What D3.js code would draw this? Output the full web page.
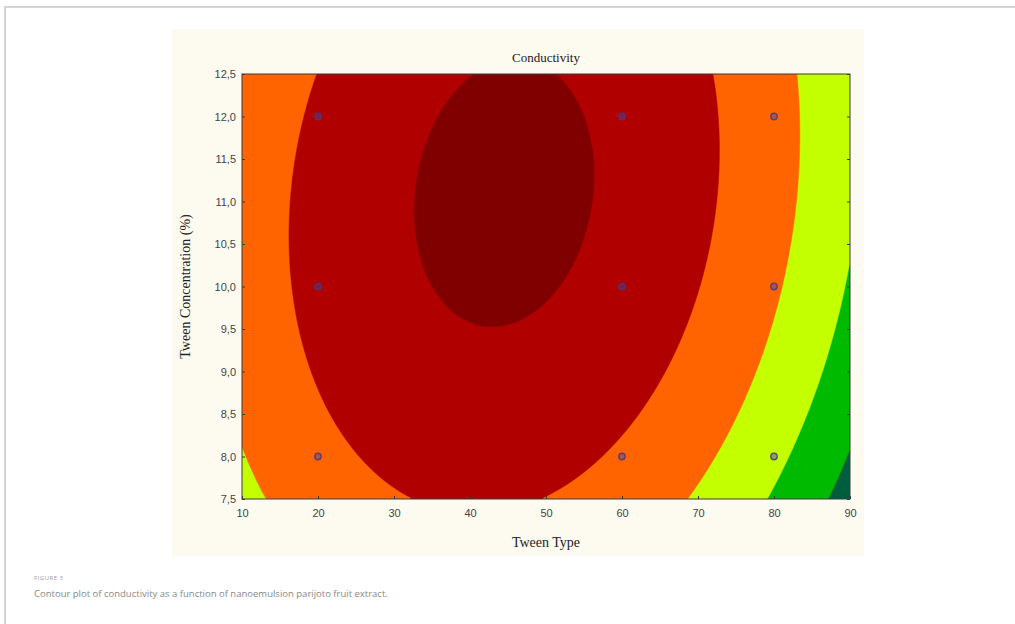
<!DOCTYPE html>
<html>
<head>
<meta charset="utf-8">
<script src="https://cdn.jsdelivr.net/npm/d3@7"></script>
<style>
  body { margin: 0; background: #fff; }
  svg { display: block; }
</style>
</head>
<body>
<script>
// design points (Tween type, Tween concentration %)
const tweenType = [20, 20, 20, 60, 60, 60, 80, 80, 80];
const tweenConc = [8, 10, 12, 8, 10, 12, 8, 10, 12];

// axis ticks
const xTicks = [10, 20, 30, 40, 50, 60, 70, 80, 90];
const yTicks = [7.5, 8, 8.5, 9, 9.5, 10, 10.5, 11, 11.5, 12, 12.5];

// fitted response surface
const surfX0 = 44.5, surfY0 = 11.1, surfTilt = 1.0;
const surfA = 1 / 685, surfB = 55.4 / 685, surfPeak = 4.2;

// contour levels, low -> high, and band colours (first = below lowest level)
const levels = [0.03, 1.02, 2.03, 3.05, 4.0];
const bandColors = ["#005e3c", "#00ba00", "#c4ff00", "#ff6400", "#b00000", "#800000"];

let width = 1015, height = 624;
let plot = {left: 242, right: 850, top: 74, bottom: 499};

let svg = d3.select("body").append("svg")
    .attr("width", width)
    .attr("height", height);

// card frame
svg.append("path")
    .attr("d", "M5,624 V7 H1015")
    .attr("fill", "none")
    .attr("stroke", "#d4d4d4")
    .attr("stroke-width", 2);

// cream image background
svg.append("rect")
    .attr("x", 172).attr("y", 29)
    .attr("width", 692).attr("height", 527)
    .attr("fill", "#fdfaf0");

let x = d3.scaleLinear().domain([10, 90]).range([plot.left, plot.right]);
let y = d3.scaleLinear().domain([7.5, 12.5]).range([plot.bottom, plot.top]);

function surface(tx, tc) {
    let dy = tc - surfY0;
    let dx = tx - surfX0 - surfTilt * dy;
    return surfPeak - surfA * dx * dx - surfB * dy * dy;
}

// sample the surface on a grid
const nx = 304, ny = 170;
let grid = new Array(nx * ny);
for (let j = 0; j < ny; j++) {
    for (let i = 0; i < nx; i++) {
        let tx = x.invert(plot.left + (i + 0.5) / nx * (plot.right - plot.left));
        let tc = y.invert(plot.top + (j + 0.5) / ny * (plot.bottom - plot.top));
        grid[j * nx + i] = surface(tx, tc);
    }
}

let contours = d3.contours().size([nx, ny]).smooth(true).thresholds(levels)(grid);

let gridPath = d3.geoPath(d3.geoTransform({
    point: function(px, py) {
        this.stream.point(plot.left + px * (plot.right - plot.left) / nx,
                          plot.top + py * (plot.bottom - plot.top) / ny);
    }
}));

svg.append("clipPath").attr("id", "clip")
    .append("rect")
    .attr("x", plot.left).attr("y", plot.top)
    .attr("width", plot.right - plot.left)
    .attr("height", plot.bottom - plot.top);

let g = svg.append("g").attr("clip-path", "url(#clip)");

g.append("rect")
    .attr("x", plot.left).attr("y", plot.top)
    .attr("width", plot.right - plot.left)
    .attr("height", plot.bottom - plot.top)
    .attr("fill", bandColors[0]);

g.selectAll("path.band")
    .data(contours)
    .enter()
    .append("path")
    .attr("class", "band")
    .attr("d", gridPath)
    .attr("fill", (d, i) => bandColors[i + 1])
    .attr("stroke", (d, i) => bandColors[i + 1])
    .attr("stroke-width", 0.5);

// design points
svg.selectAll("circle.pt")
    .data(tweenType.map((t, i) => [t, tweenConc[i]]))
    .enter()
    .append("circle")
    .attr("class", "pt")
    .attr("cx", d => x(d[0]))
    .attr("cy", d => y(d[1]))
    .attr("r", 3.2)
    .attr("fill", "#4a40a0")
    .attr("fill-opacity", 0.45)
    .attr("stroke", "#4a3a78")
    .attr("stroke-opacity", 0.85)
    .attr("stroke-width", 1.4);

// frame
svg.append("rect")
    .attr("x", plot.left).attr("y", plot.top)
    .attr("width", plot.right - plot.left)
    .attr("height", plot.bottom - plot.top)
    .attr("fill", "none")
    .attr("stroke", "#3a3a3a")
    .attr("stroke-width", 1);

let commaFmt = d => d3.format(".1f")(d).replace(".", ",");

let axisStyle = sel => {
    sel.select(".domain").remove();
    sel.selectAll(".tick line").attr("stroke", "#3a3a3a");
    sel.selectAll(".tick text")
        .attr("font-family", "Liberation Sans, Arial, sans-serif")
        .attr("font-size", "11px")
        .attr("fill", "#444");
};

svg.append("g")
    .attr("transform", "translate(" + plot.left + ",0)")
    .call(d3.axisRight(y).tickValues(yTicks).tickSize(3).tickFormat(""))
    .call(axisStyle);
svg.append("g")
    .attr("transform", "translate(" + plot.right + ",0)")
    .call(d3.axisLeft(y).tickValues(yTicks).tickSize(3).tickFormat(""))
    .call(axisStyle);
svg.append("g")
    .attr("transform", "translate(0," + plot.bottom + ")")
    .call(d3.axisTop(x).tickValues(xTicks).tickSize(3).tickFormat(""))
    .call(axisStyle);

// tick labels
svg.append("g")
    .attr("transform", "translate(" + (plot.left - 6) + ",0)")
    .call(d3.axisLeft(y).tickValues(yTicks).tickSize(0).tickPadding(0).tickFormat(commaFmt))
    .call(axisStyle);
svg.append("g")
    .attr("transform", "translate(0," + (plot.bottom + 8) + ")")
    .call(d3.axisBottom(x).tickValues(xTicks).tickSize(0).tickPadding(2).tickFormat(d3.format("d")))
    .call(axisStyle);

// titles
svg.append("text")
    .attr("x", (plot.left + plot.right) / 2)
    .attr("y", 62)
    .attr("text-anchor", "middle")
    .attr("font-family", "Liberation Serif, Times New Roman, serif")
    .attr("font-size", "13px")
    .attr("fill", "#222")
    .text("Conductivity");

svg.append("text")
    .attr("x", (plot.left + plot.right) / 2)
    .attr("y", 547)
    .attr("text-anchor", "middle")
    .attr("font-family", "Liberation Serif, Times New Roman, serif")
    .attr("font-size", "14px")
    .attr("fill", "#222")
    .text("Tween Type");

svg.append("text")
    .attr("transform", "translate(190," + ((plot.top + plot.bottom) / 2) + ") rotate(-90)")
    .attr("text-anchor", "middle")
    .attr("font-family", "Liberation Serif, Times New Roman, serif")
    .attr("font-size", "14px")
    .attr("fill", "#222")
    .text("Tween Concentration (%)");

// caption
svg.append("text")
    .attr("x", 34).attr("y", 580)
    .attr("font-family", "Open Sans, sans-serif")
    .attr("font-size", "6px")
    .attr("letter-spacing", "0.5px")
    .attr("fill", "#999")
    .text("FIGURE 3");

svg.append("text")
    .attr("x", 34).attr("y", 597)
    .attr("font-family", "Open Sans, sans-serif")
    .attr("font-size", "9.5px")
    .attr("fill", "#888")
    .text("Contour plot of conductivity as a function of nanoemulsion parijoto fruit extract.");
</script>
</body>
</html>
